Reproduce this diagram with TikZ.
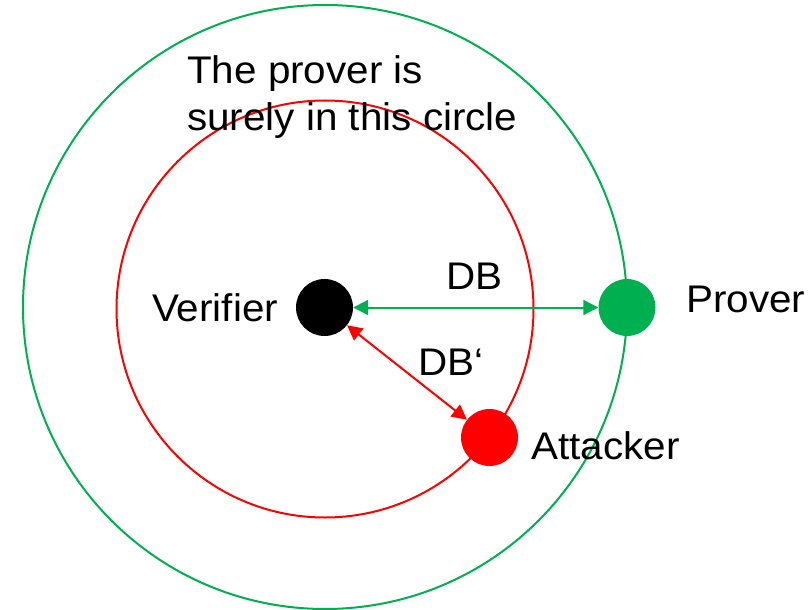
\documentclass[tikz,border=0pt]{standalone}
\usepackage{fontspec}
\setmainfont[FakeStretch=1.05]{Liberation Sans}
\usetikzlibrary{arrows.meta}
\definecolor{pgreen}{RGB}{0,176,80}
\definecolor{pred}{RGB}{255,0,0}
\begin{document}
\begin{tikzpicture}[x=1pt,y=-1pt,
  label/.style={anchor=base west,inner sep=0pt,font=\fontsize{38.5}{47}\selectfont},
  dot/.style={circle,inner sep=0pt,minimum size=57pt},
  ring/.style={line width=2pt},
  link/.style={line width=2pt,{Triangle[length=15pt,width=15pt]}-{Triangle[length=15pt,width=15pt]}}]
  \useasboundingbox (0,0) rectangle (812,610);
  % range circles
  \draw[ring,pgreen] (325,307) circle[radius=302];
  \draw[ring,pred] (325,309) circle[radius=208.5];
  % parties
  \node[dot,fill=black] (ver) at (324.5,307.5) {};
  \node[dot,fill=pgreen] (prov) at (627,307.5) {};
  \node[dot,fill=pred] (att) at (489.5,437.5) {};
  % distance bounding runs
  \draw[link,pgreen] (ver) -- (prov);
  \draw[link,pred] (ver) -- (att);
  % labels
  \node[label] (t1) at (187,84) {The prover is};
  \node[label] (t2) at (187,131) {surely in this circle};
  \node[label] (lver) at (152,321.5) {Verifier};
  \node[label] (lprov) at (686,312.5) {Prover};
  \node[label] (latt) at (531,459) {Attacker};
  \node[label] (ldb) at (446,289) {DB};
  \node[label] (ldbp) at (418,375) {DB‘};
\end{tikzpicture}
\end{document}
